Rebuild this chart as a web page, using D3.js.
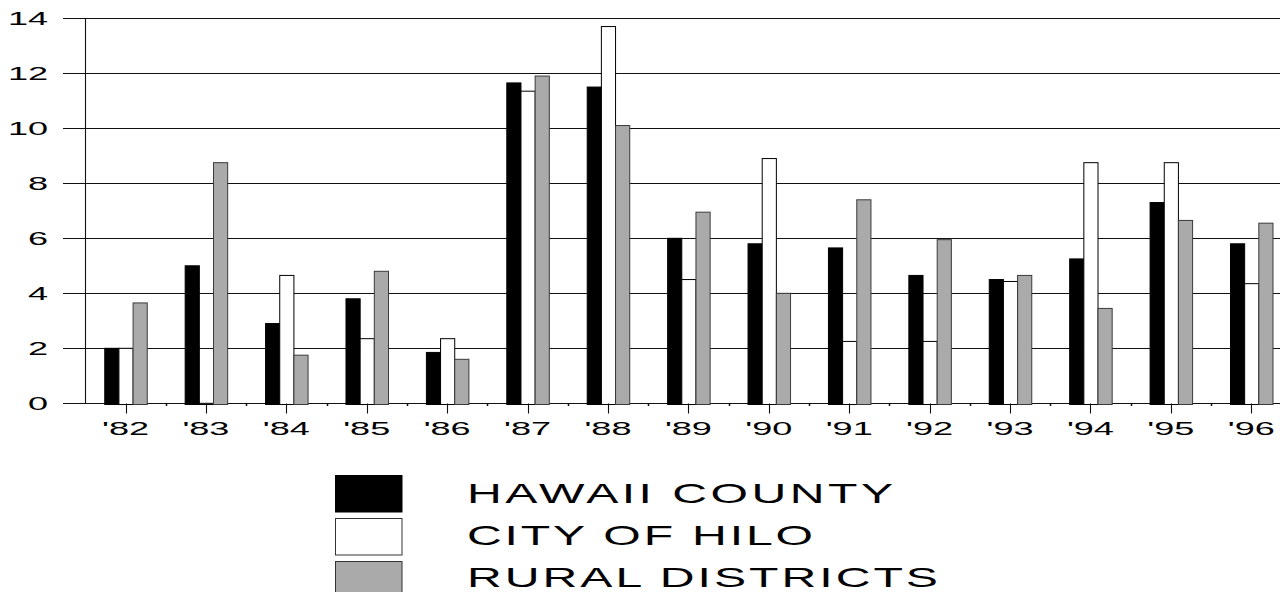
<!DOCTYPE html>
<html>
<head>
<meta charset="utf-8">
<script src="https://cdn.jsdelivr.net/npm/d3@7"></script>
<style>
  html, body { margin: 0; padding: 0; background: #fff; }
  svg { display: block; }
  text { font-family: "Liberation Sans", Arial, Helvetica, sans-serif; fill: #000; }
</style>
</head>
<body>
<svg id="chart" width="1280" height="592"></svg>
<script>
// ---- data ----
const years = ["'82","'83","'84","'85","'86","'87","'88","'89","'90","'91","'92","'93","'94","'95","'96"];
const seriesNames = ["HAWAII COUNTY", "CITY OF HILO", "RURAL DISTRICTS"];
const hawaiiCounty = [2.0, 5.0, 2.9, 3.8, 1.85, 11.65, 11.5, 6.0, 5.8, 5.65, 4.65, 4.5, 5.25, 7.3, 5.8];
const cityOfHilo   = [2.0, 0.0, 4.65, 2.35, 2.35, 11.35, 13.7, 4.5, 8.9, 2.25, 2.25, 4.43, 8.75, 8.75, 4.35];
const ruralDistricts = [3.65, 8.75, 1.75, 4.8, 1.6, 11.9, 10.1, 6.95, 4.0, 7.4, 5.95, 4.65, 3.45, 6.65, 6.55];
const yTicks = [0, 2, 4, 6, 8, 10, 12, 14];

const seriesValues = [hawaiiCounty, cityOfHilo, ruralDistricts];
const fills = ["#000000", "#ffffff", "#aaaaaa"];
const strokes = ["#000000", "#000000", "#3a3a3a"];

const svg = d3.select("#chart");

// ---- scales ----
const step = 80.41;
const x0Start = 85.3;
const pInner = 1 - 42.5 / step;
const x0 = d3.scaleBand()
  .domain(years)
  .range([x0Start, x0Start + step * years.length])
  .paddingInner(pInner)
  .paddingOuter(pInner / 2);
const x1 = d3.scaleBand()
  .domain(seriesNames)
  .range([0, x0.bandwidth()]);
const y = d3.scaleLinear().domain([0, 14]).range([403.3, 18.3]);

const axisX = 85.5;
const gridLeft = 63;

// ---- gridlines (with outward y ticks) ----
svg.append("g")
  .selectAll("line")
  .data(yTicks)
  .join("line")
  .attr("x1", gridLeft)
  .attr("x2", 1280)
  .attr("y1", d => Math.round(y(d)) + 0.5)
  .attr("y2", d => Math.round(y(d)) + 0.5)
  .attr("stroke", "#111")
  .attr("stroke-width", 1.1);

// y axis line
svg.append("line")
  .attr("x1", axisX).attr("x2", axisX)
  .attr("y1", Math.round(y(14)) + 0.5).attr("y2", Math.round(y(0)) + 0.5)
  .attr("stroke", "#111").attr("stroke-width", 1.1);

// y tick labels (horizontally stretched)
svg.append("g")
  .selectAll("g")
  .data(yTicks)
  .join("g")
  .attr("transform", d => `translate(48,${y(d) + 6.8}) scale(1.95,1)`)
  .append("text")
  .attr("text-anchor", "end")
  .attr("font-size", 18.5)
  .text(d => d);

// ---- bars ----
const groups = svg.append("g")
  .selectAll("g")
  .data(years)
  .join("g")
  .attr("transform", d => `translate(${x0(d)},0)`);

groups.selectAll("rect")
  .data((d, i) => seriesNames.map((s, k) => ({ s, k, v: seriesValues[k][i] })))
  .join("rect")
  .attr("x", d => x1(d.s) + 0.5)
  .attr("width", x1.bandwidth())
  .attr("y", d => y(d.v))
  .attr("height", d => y(0) - y(d.v) + 1.2)
  .attr("fill", d => fills[d.k])
  .attr("stroke", d => strokes[d.k])
  .attr("stroke-width", 1);

// ---- x axis ticks ----
const xAxisY = Math.round(y(0)) + 0.5;
svg.append("g")
  .selectAll("line")
  .data(years)
  .join("line")
  .attr("x1", d => Math.round(x0(d) + x0.bandwidth() / 2) + 0.5)
  .attr("x2", d => Math.round(x0(d) + x0.bandwidth() / 2) + 0.5)
  .attr("y1", xAxisY)
  .attr("y2", xAxisY + 10)
  .attr("stroke", "#111")
  .attr("stroke-width", 1.1);

// minor ticks at category boundaries
svg.append("g")
  .selectAll("line")
  .data(years.slice(1))
  .join("line")
  .attr("x1", d => Math.round(x0(d) - (step - x0.bandwidth()) / 2) + 0.5)
  .attr("x2", d => Math.round(x0(d) - (step - x0.bandwidth()) / 2) + 0.5)
  .attr("y1", xAxisY)
  .attr("y2", xAxisY + 2.5)
  .attr("stroke", "#111")
  .attr("stroke-width", 1.5);

// x tick labels
svg.append("g")
  .selectAll("g")
  .data(years)
  .join("g")
  .attr("transform", d => `translate(${x0(d) + x0.bandwidth() / 2},435) scale(1.95,1)`)
  .append("text")
  .attr("text-anchor", "middle")
  .attr("font-size", 18.5)
  .text(d => d);

// ---- legend ----
const legendTops = [475, 518, 561];
const legendBaselines = [503, 545, 587];
const legendWidths = [426, 346, 471];
const lsx = 1.72;
const legend = svg.append("g")
  .selectAll("g")
  .data(seriesNames)
  .join("g");

legend.append("rect")
  .attr("x", 335.5)
  .attr("y", (d, i) => legendTops[i] + 0.5)
  .attr("width", 66.5)
  .attr("height", 36.5)
  .attr("fill", (d, i) => fills[i])
  .attr("stroke", (d, i) => i === 0 ? "#000" : "#333")
  .attr("stroke-width", 1);

legend.append("g")
  .attr("transform", (d, i) => `translate(467,${legendBaselines[i]}) scale(${lsx},1)`)
  .append("text")
  .attr("font-size", 28)
  .attr("textLength", (d, i) => legendWidths[i] / lsx)
  .attr("lengthAdjust", "spacing")
  .text(d => d);
</script>
</body>
</html>
